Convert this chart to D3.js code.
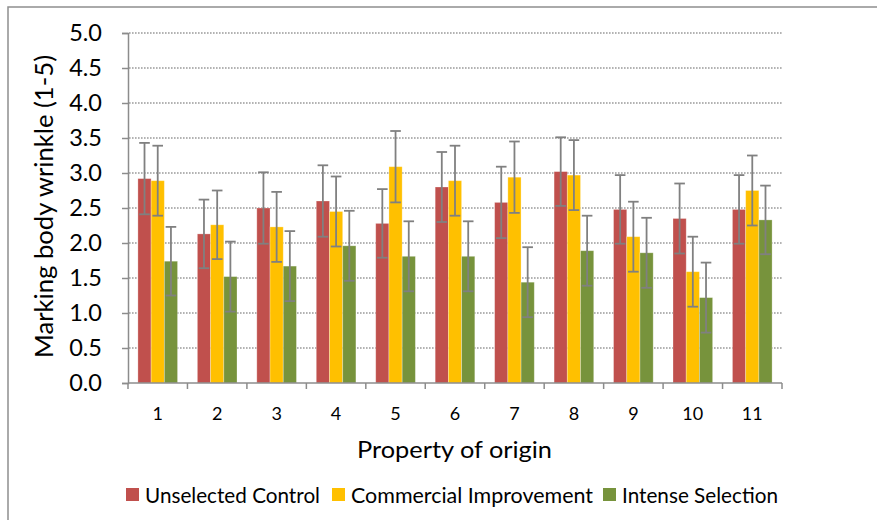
<!DOCTYPE html>
<html>
<head>
<meta charset="utf-8">
<script src="https://cdn.jsdelivr.net/npm/d3@7"></script>
<style>
  html, body { margin: 0; padding: 0; background: #fff; }
  svg { display: block; font-family: Lato, "Open Sans", sans-serif; }
</style>
</head>
<body>
<svg id="chart" width="877" height="520"></svg>
<script>
const categories = ["1","2","3","4","5","6","7","8","9","10","11"];
const seriesNames = ["Unselected Control", "Commercial Improvement", "Intense Selection"];
const seriesColors = ["#C0504D", "#FFC000", "#77933C"];
const controlValues    = [2.92, 2.13, 2.50, 2.60, 2.28, 2.80, 2.58, 3.02, 2.48, 2.35, 2.48];
const controlErrors    = [0.51, 0.49, 0.51, 0.51, 0.49, 0.50, 0.51, 0.49, 0.49, 0.50, 0.49];
const commercialValues = [2.89, 2.26, 2.23, 2.45, 3.09, 2.89, 2.94, 2.97, 2.09, 1.59, 2.75];
const commercialErrors = [0.50, 0.49, 0.50, 0.50, 0.51, 0.50, 0.51, 0.50, 0.50, 0.50, 0.50];
const intenseValues    = [1.74, 1.52, 1.67, 1.96, 1.81, 1.81, 1.44, 1.89, 1.86, 1.22, 2.33];
const intenseErrors    = [0.49, 0.50, 0.50, 0.50, 0.50, 0.50, 0.50, 0.50, 0.50, 0.50, 0.49];
const yTickValues = [0, 0.5, 1, 1.5, 2, 2.5, 3, 3.5, 4, 4.5, 5];
const yTitle = "Marking body wrinkle (1-5)";
const xTitle = "Property of origin";

const seriesValues = [controlValues, commercialValues, intenseValues];
const seriesErrors = [controlErrors, commercialErrors, intenseErrors];

const svg = d3.select("#chart");
const plotLeft = 128, plotRight = 782, plotTop = 33, plotBottom = 383;

// chart border (only left/top visible in frame)
svg.append("rect").attr("x", 8).attr("y", 7).attr("width", 1000).attr("height", 1000)
  .attr("fill", "none").attr("stroke", "#8f8f8f").attr("stroke-width", 1.5);

const x = d3.scaleBand().domain(categories).range([plotLeft, plotRight]).paddingInner(0).paddingOuter(0);
const xs = d3.scaleBand().domain(seriesNames).range([0, x.bandwidth()]).paddingInner(0).paddingOuter(0.75);
const y = d3.scaleLinear().domain([0, 5]).range([plotBottom, plotTop]);

// gridlines
svg.append("g").selectAll("line").data(yTickValues.filter(v => v > 0)).join("line")
  .attr("x1", plotLeft + 1).attr("x2", plotRight)
  .attr("y1", d => y(d)).attr("y2", d => y(d))
  .attr("stroke", "#9a9a9a").attr("stroke-width", 1.4).attr("stroke-dasharray", "1.6,1.4");

// bars
const rows = [];
seriesNames.forEach((s, si) => {
  categories.forEach((c, ci) => rows.push({s, si, c, v: seriesValues[si][ci], e: seriesErrors[si][ci]}));
});
svg.append("g").selectAll("rect").data(rows).join("rect")
  .attr("x", d => x(d.c) + xs(d.s))
  .attr("y", d => y(d.v))
  .attr("width", xs.bandwidth())
  .attr("height", d => y(0) - y(d.v))
  .attr("fill", d => seriesColors[d.si])
  .attr("stroke", "rgba(255,255,255,0.35)").attr("stroke-width", 0.8);

// error bars
const eg = svg.append("g").attr("stroke", "#808080").attr("stroke-width", 1.8);
rows.forEach(d => {
  const cx = x(d.c) + xs(d.s) + xs.bandwidth() / 2;
  eg.append("line").attr("x1", cx).attr("x2", cx).attr("y1", y(d.v + d.e)).attr("y2", y(d.v - d.e));
  eg.append("line").attr("x1", cx - 5.3).attr("x2", cx + 5.3).attr("y1", y(d.v + d.e)).attr("y2", y(d.v + d.e));
  eg.append("line").attr("x1", cx - 5.3).attr("x2", cx + 5.3).attr("y1", y(d.v - d.e)).attr("y2", y(d.v - d.e));
});

// y axis
const yAxis = d3.axisLeft(y).tickValues(yTickValues).tickFormat(d3.format(".1f")).tickSize(6).tickPadding(20);
const yg = svg.append("g").attr("transform", `translate(${plotLeft},0)`).call(yAxis);
yg.select(".domain").attr("stroke", "#8c8c8c").attr("stroke-width", 1.5);
yg.selectAll(".tick line").attr("stroke", "#8c8c8c").attr("stroke-width", 1.5);
yg.selectAll(".tick text").attr("font-size", 23.5).attr("fill", "#000").attr("font-family", "Lato, sans-serif");

// x axis
const xg = svg.append("g").attr("transform", `translate(0,${plotBottom})`);
xg.append("line").attr("x1", plotLeft).attr("x2", plotRight).attr("y1", 0).attr("y2", 0)
  .attr("stroke", "#8c8c8c").attr("stroke-width", 1.5);
const boundaries = categories.map(c => x(c)).concat([x(categories[categories.length - 1]) + x.bandwidth()]);
xg.selectAll("line.tk").data(boundaries).join("line").attr("class", "tk")
  .attr("x1", d => d).attr("x2", d => d).attr("y1", 0).attr("y2", 6)
  .attr("stroke", "#8c8c8c").attr("stroke-width", 1.5);
xg.selectAll("text").data(categories).join("text")
  .attr("x", d => x(d) + x.bandwidth() / 2).attr("y", 37)
  .attr("text-anchor", "middle").attr("font-size", 18).attr("fill", "#000")
  .text(d => d);

// axis titles
svg.append("text").attr("x", 454.5).attr("y", 458)
  .attr("text-anchor", "middle").attr("font-size", 24).attr("fill", "#000")
  .attr("textLength", 195).attr("lengthAdjust", "spacingAndGlyphs").text(xTitle);
svg.append("text").attr("transform", `translate(53,206.5) rotate(-90)`)
  .attr("text-anchor", "middle").attr("font-size", 25).attr("fill", "#000")
  .attr("textLength", 303).attr("lengthAdjust", "spacingAndGlyphs").text(yTitle);

// legend
const legendX = [126, 332, 603];
const legendW = [175, 242, 156];
const lg = svg.append("g");
seriesNames.forEach((s, i) => {
  lg.append("rect").attr("x", legendX[i]).attr("y", 488).attr("width", 13).attr("height", 13).attr("fill", seriesColors[i]);
  lg.append("text").attr("x", legendX[i] + 19).attr("y", 503).attr("font-size", 20.5).attr("fill", "#000")
    .attr("textLength", legendW[i]).attr("lengthAdjust", "spacingAndGlyphs").text(s);
});
</script>
</body>
</html>
